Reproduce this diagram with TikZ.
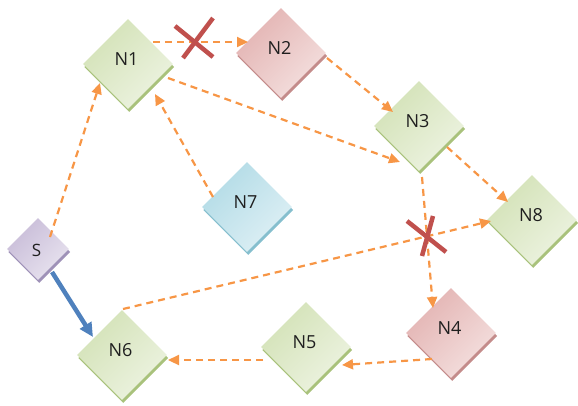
\documentclass[tikz,border=0pt]{standalone}
\usepackage{fontspec}
\setmainfont{Open Sans}
\usetikzlibrary{shapes.geometric,arrows.meta,shadows,calc}

\definecolor{grnD}{HTML}{D3E2B7}
\definecolor{grnL}{HTML}{EDF3E1}
\definecolor{grnS}{HTML}{A9C27C}
\definecolor{pnkD}{HTML}{E3B3B2}
\definecolor{pnkL}{HTML}{F4E0DF}
\definecolor{pnkS}{HTML}{C48C8B}
\definecolor{bluD}{HTML}{B2DBE6}
\definecolor{bluL}{HTML}{DEF0F5}
\definecolor{bluS}{HTML}{86BFCE}
\definecolor{prpD}{HTML}{C8BCD8}
\definecolor{prpL}{HTML}{E8E3EF}
\definecolor{prpS}{HTML}{9F92B8}
\definecolor{orng}{HTML}{F79646}
\definecolor{xred}{HTML}{C0504D}
\definecolor{solid}{HTML}{4F81BD}

\tikzset{
  box/.style={diamond, minimum width=90pt, minimum height=90pt, inner sep=0pt},
  tag/.style={font=\fontsize{18}{18}\selectfont, text=black!88, inner sep=0pt},
  gbox/.style={box, top color=grnD, bottom color=grnL, shading angle=45,
    general shadow={shadow xshift=1.2pt, shadow yshift=-3pt, fill=grnS}},
  pbox/.style={box, top color=pnkD, bottom color=pnkL, shading angle=45,
    general shadow={shadow xshift=1.2pt, shadow yshift=-3pt, fill=pnkS}},
  bbox/.style={box, top color=bluD, bottom color=bluL, shading angle=45,
    general shadow={shadow xshift=1.2pt, shadow yshift=-3pt, fill=bluS}},
  sbox/.style={box, minimum width=62pt, minimum height=62pt,
    top color=prpD, bottom color=prpL, shading angle=45,
    general shadow={shadow xshift=1.2pt, shadow yshift=-3pt, fill=prpS}},
  flow/.style={draw=orng, line width=2.2pt, dash pattern=on 7pt off 5pt,
    -{Triangle[length=11pt,width=10pt]}},
  route/.style={draw=solid, line width=4.5pt, -{Triangle[length=14pt,width=13pt]}},
  cut/.style={draw=xred, line width=4.5pt}
}

\begin{document}
\begin{tikzpicture}[x=1pt, y=-1pt]
\useasboundingbox (0,0) rectangle (578,405);

% nodes
\node[gbox, label={[tag, xshift=-1.5pt, yshift=5pt]center:N1}] (N1) at (128,64) {};
\node[pbox, label={[tag, xshift=-1.5pt, yshift=5pt]center:N2}] (N2) at (281,53) {};
\node[gbox, label={[tag, xshift=-1.5pt, yshift=5pt]center:N3}] (N3) at (419,126) {};
\node[gbox, label={[tag, xshift=-1pt, yshift=5pt]center:N8}] (N8) at (532,220) {};
\node[pbox, label={[tag, xshift=-1.5pt, yshift=5pt]center:N4}] (N4) at (451,333) {};
\node[gbox, label={[tag, xshift=-1.5pt, yshift=5pt]center:N5}] (N5) at (306,347) {};
\node[gbox, label={[tag, xshift=-1.5pt, yshift=5pt]center:N6}] (N6) at (122,355) {};
\node[bbox, label={[tag, xshift=-1.5pt, yshift=5pt]center:N7}] (N7) at (247,207) {};
\node[sbox, label={[tag, font=\fontsize{17}{17}\selectfont, xshift=-1.5pt, yshift=-1pt]center:S}] (S) at (38,249) {};

% dashed links
\draw[flow] ($(S)+(12,-12)$)   -- ($(N1)+(-28,19)$);
\draw[flow] ($(N1)+(25,-22)$)  -- ($(N2)+(-33,-11)$);
\draw[flow] ($(N1)+(40,14)$)   -- ($(N3)+(-19,36)$);
\draw[flow] ($(N7)+(-34,-10)$) -- ($(N1)+(27,30)$);
\draw[flow] ($(N2)+(46,5)$)    -- ($(N3)+(-26,-14)$);
\draw[flow] ($(N3)+(28,21)$)   -- ($(N8)+(-24,-18)$);
\draw[flow] ($(N3)+(3,51)$)    -- ($(N4)+(-18,-25)$);
\draw[flow] ($(N6)+(1,-46)$)   -- ($(N8)+(-41,1)$);
\draw[flow] ($(N4)+(-19,26)$)  -- ($(N5)+(36,18)$);
\draw[flow] ($(N5)+(-43,13)$)  -- ($(N6)+(46,5)$);

% solid route
\draw[route] ($(S)+(14,23)$) -- ($(N6)+(-29,-18)$);

% broken links
\coordinate (cutA) at (196,40);
\coordinate (cutB) at (427,236);
\draw[cut] ($(cutA)+(-21,-14)$) -- ($(cutA)+(17,17)$);
\draw[cut] ($(cutA)+(17,-22)$)  -- ($(cutA)+(-13,18)$);
\draw[cut] ($(cutB)+(-20,-15)$) -- ($(cutB)+(19,16)$);
\draw[cut] ($(cutB)+(6,-20)$)   -- ($(cutB)+(-5,20)$);
\end{tikzpicture}
\end{document}
